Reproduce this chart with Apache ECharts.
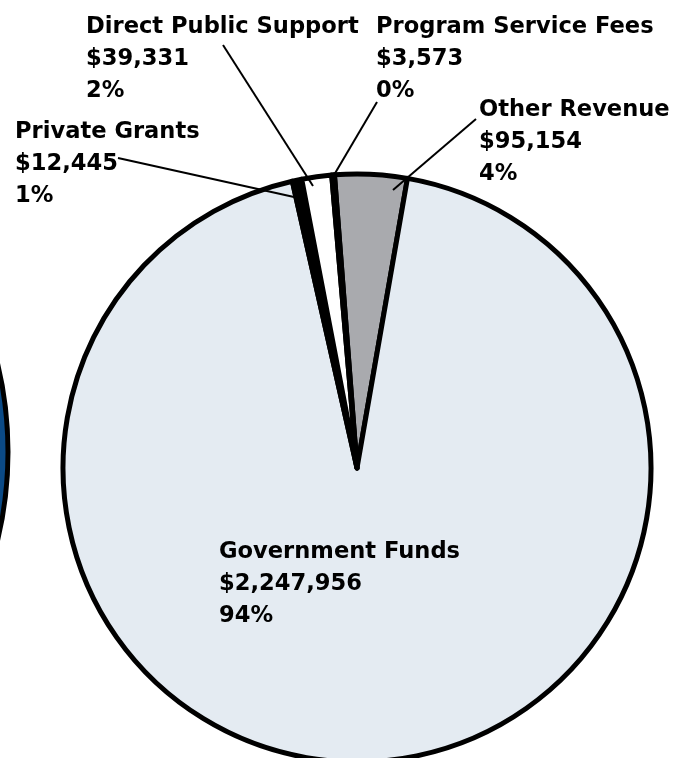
<!DOCTYPE html>
<html>
<head>
<meta charset="utf-8">
<script src="https://cdn.jsdelivr.net/npm/echarts@6/dist/echarts.min.js"></script>
<style>
html,body{margin:0;padding:0;background:#fff;}
#chart{width:682px;height:758px;}
</style>
</head>
<body>
<div id="chart"></div>
<script>
// Data (clockwise from just left of 12 o'clock)
const categories = ['Other Revenue', 'Government Funds', 'Private Grants', 'Direct Public Support', 'Program Service Fees'];
const values = [95154, 2247956, 12445, 39331, 3573];
const sliceColors = ['#a9aaae', '#e4ebf2', '#000000', '#ffffff', '#000000'];

// Label layout (pixel positions of label blocks and leader lines)
const labelPos = [
  {x: 479, y: 94, line: [[476, 119], [393, 190]]},
  {x: 219, y: 536, line: null},
  {x: 15, y: 116, line: [[118, 158], [294, 197]]},
  {x: 86, y: 11, line: [[223, 45], [313, 186]]},
  {x: 376, y: 11, line: [[377, 102], [334, 175]]}
];

const total = values.reduce((a, b) => a + b, 0);
const fmt = v => '$' + String(v).replace(/\B(?=(\d{3})+(?!\d))/g, ',');

const chart = echarts.init(document.getElementById('chart'), null, {renderer: 'canvas'});
chart.setOption({
  backgroundColor: '#ffffff',
  animation: false,
  graphic: labelPos.filter(p => p.line).map(p => ({
    type: 'polyline',
    z: 100,
    silent: true,
    shape: {points: p.line},
    style: {stroke: '#000', lineWidth: 2, fill: null}
  })),
  series: [
    {
      type: 'pie',
      silent: true,
      center: [-370, 452],
      radius: 378,
      label: {show: false},
      labelLine: {show: false},
      itemStyle: {color: '#0b4a86', borderColor: '#000', borderWidth: 5},
      data: [{name: 'other', value: 1}]
    },
    {
      type: 'pie',
      center: [357, 468],
      radius: 294,
      startAngle: 94.4,
      clockwise: true,
      avoidLabelOverlap: false,
      silent: true,
      itemStyle: {borderColor: '#000', borderWidth: 5},
      label: {
        show: true,
        position: 'outside',
        formatter: p => p.name + '\n' + fmt(p.value) + '\n' + Math.round(p.value / total * 100) + '%',
        fontFamily: 'DejaVu Sans',
        fontWeight: 'bold',
        fontSize: 22.6,
        lineHeight: 32,
        color: '#000',
        align: 'left'
      },
      labelLine: {show: false},
      labelLayout: function (params) {
        if (params.seriesIndex !== 1) return {};
        const lp = labelPos[params.dataIndex];
        return {x: lp.x, y: lp.y, align: 'left', verticalAlign: 'top'};
      },
      data: categories.map((c, i) => ({
        name: c,
        value: values[i],
        itemStyle: {color: sliceColors[i]}
      }))
    }
  ]
});
</script>
</body>
</html>
